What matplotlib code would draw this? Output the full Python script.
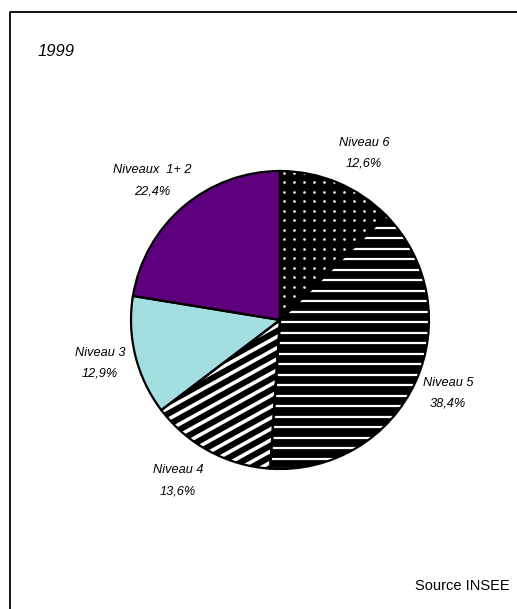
import numpy as np
import matplotlib.pyplot as plt

plt.rcParams['font.family'] = ['Liberation Sans', 'DejaVu Sans']

labels = ['Niveau 6', 'Niveau 5', 'Niveau 4', 'Niveau 3', 'Niveaux  1+ 2']
pct = [12.6, 38.4, 13.6, 12.9, 22.4]
pct_txt = ['12,6%', '38,4%', '13,6%', '12,9%', '22,4%']

faces = ['black', 'black', 'black', '#A3DFE0', '#5E007E']
# texture per slice: (kind, angle in deg, spacing px, line width pt)
textures = [('dots', 0, 10, 0), ('lines', 0, 10.5, 1.6),
            ('lines', 29, 9.7, 2.6), None, None]

W, H = 517, 609
fig = plt.figure(figsize=(W / 100, H / 100), dpi=100)
ax = fig.add_axes([0, 0, 1, 1])

# frame (only left and top visible)
ax.plot([10, 10, W + 5], [-5, H - 12, H - 12], color='black', lw=1.3)

cx, cy, r = 280, H - 320, 149

wedges, _ = ax.pie(pct, center=(cx, cy), radius=r, startangle=90,
                   counterclock=False, colors=faces, frame=True,
                   wedgeprops=dict(linewidth=0))

for w, tex in zip(wedges, textures):
    if tex is None:
        continue
    kind, ang, sp, lw = tex
    if kind == 'dots':
        gx, gy = np.meshgrid(np.arange(cx - r, cx + r, sp),
                             np.arange(cy - r, cy + r, sp * 0.95))
        sc = ax.scatter(gx.ravel() + 3, gy.ravel() + 2, s=3.5, color='white',
                        linewidths=0, zorder=3)
        sc.set_clip_path(w)
    else:
        t = np.deg2rad(ang)
        d = np.array([np.cos(t), np.sin(t)])
        n = np.array([-np.sin(t), np.cos(t)])
        for o in np.arange(-r, r, sp):
            p0 = np.array([cx, cy]) + n * o - d * r * 1.1
            p1 = np.array([cx, cy]) + n * o + d * r * 1.1
            ln, = ax.plot([p0[0], p1[0]], [p0[1], p1[1]], color='white',
                          lw=lw, solid_capstyle='butt', zorder=3)
            ln.set_clip_path(w)

# outline pass
ax.pie(pct, center=(cx, cy), radius=r, startangle=90, counterclock=False,
       frame=True,
       wedgeprops=dict(fill=False, edgecolor='black', linewidth=1.6,
                       zorder=4))
ax.set_xlim(0, W)
ax.set_ylim(0, H)
ax.set_aspect('equal')
ax.axis('off')

# label positions (pixel coords from top)
lab_pos = [(364, 143), (448, 383), (178, 470), (100, 353), (152, 170)]
for name, t, (x, y) in zip(labels, pct_txt, lab_pos):
    ax.text(x, H - y, name, ha='center', va='center', fontsize=9.2,
            style='italic')
    ax.text(x, H - y - 21, t, ha='center', va='center', fontsize=9.2,
            style='italic')

ax.text(38, H - 52, '1999', ha='left', va='center', fontsize=12,
        style='italic')
ax.text(510, H - 586, 'Source INSEE', ha='right', va='center', fontsize=10.5)

fig.savefig('out.png', dpi=100)
